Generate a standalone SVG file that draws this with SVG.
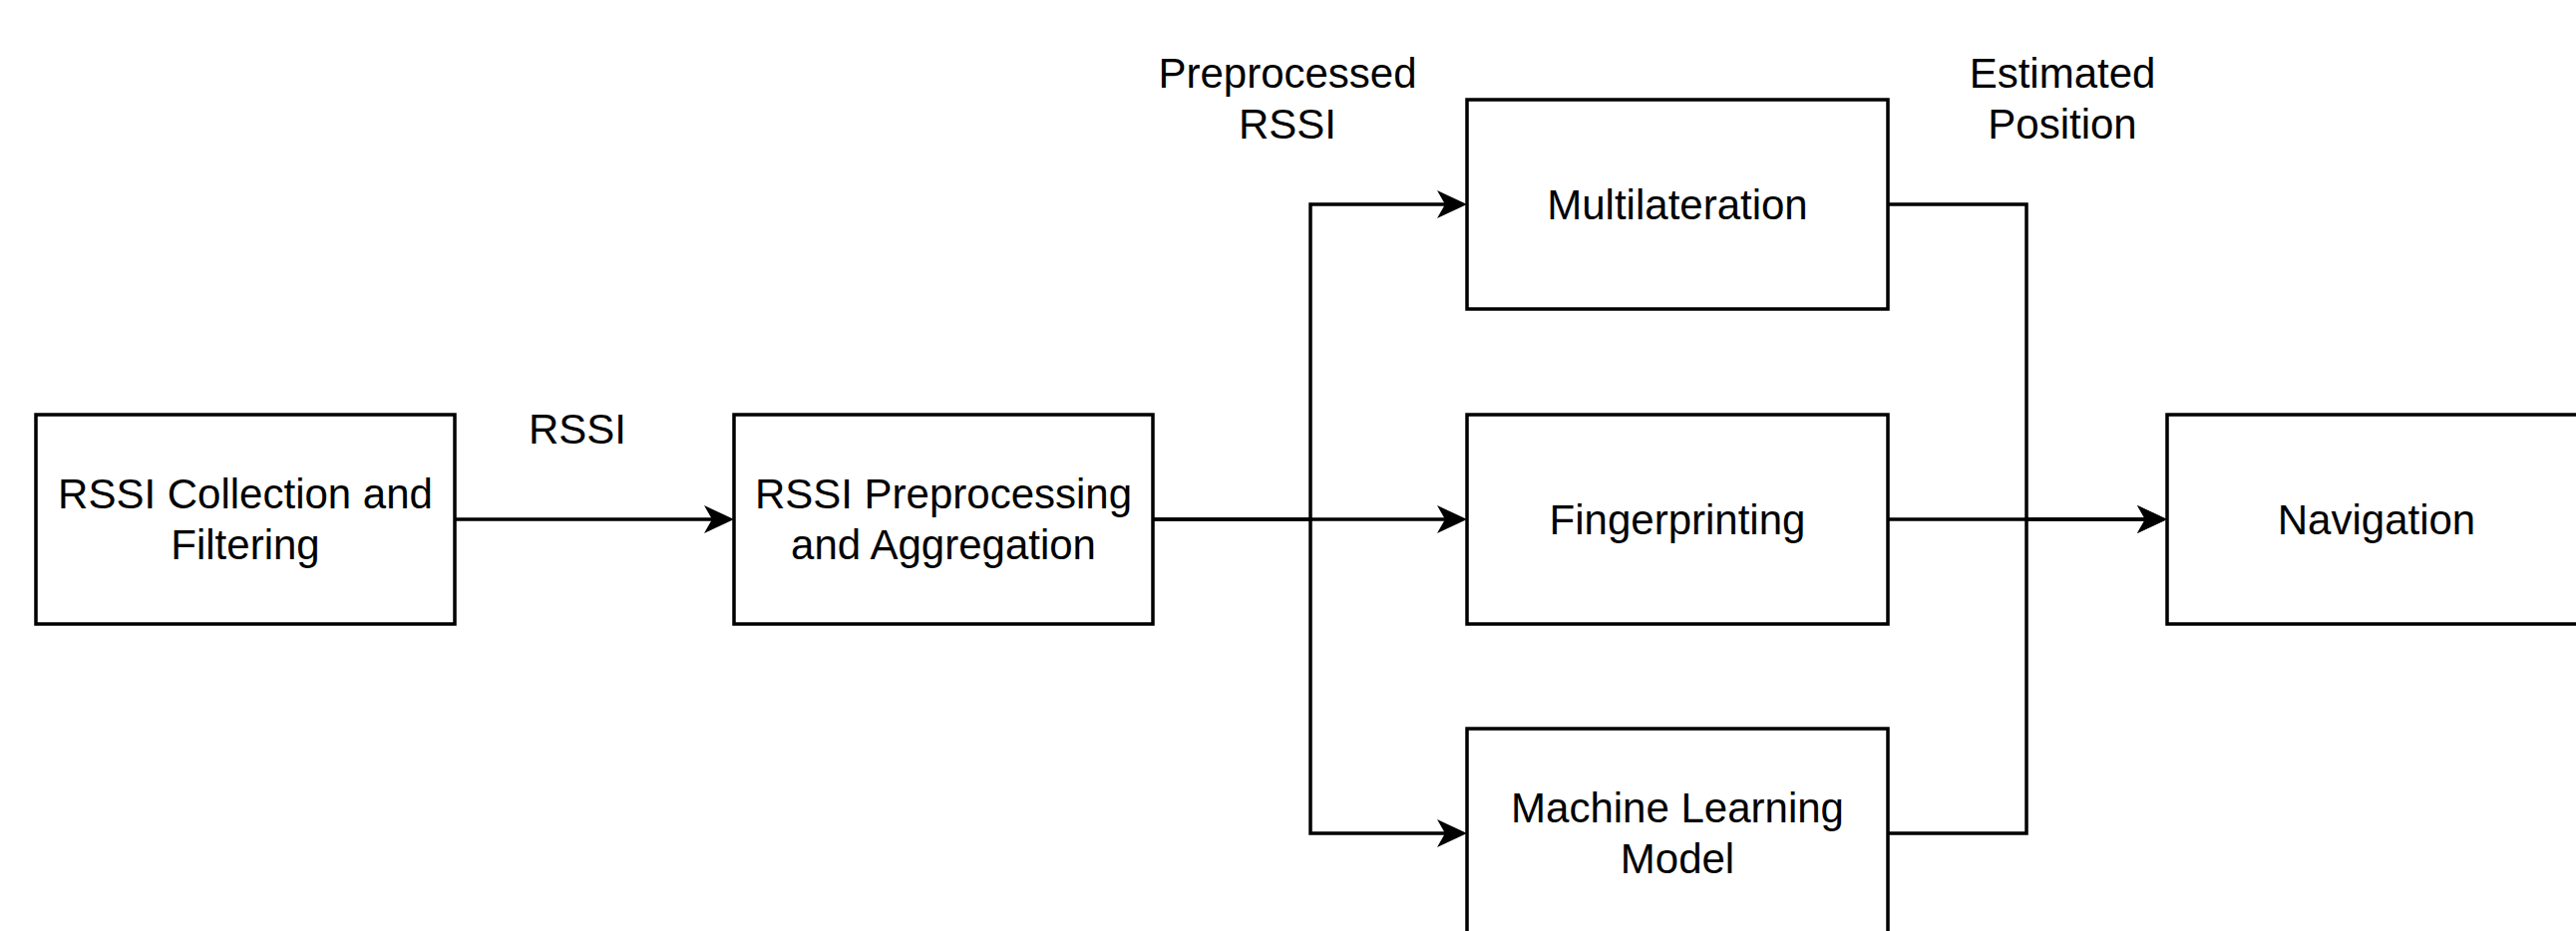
<svg xmlns="http://www.w3.org/2000/svg" width="2583" height="934" viewBox="0 0 2583 934">
<style>
.box{fill:#fff;stroke:#000;stroke-width:3.5}
.edge{fill:none;stroke:#000;stroke-width:3.5}
text{font-family:"Liberation Sans",Arial,sans-serif;font-size:42px;fill:#000;text-anchor:middle}
</style>
<defs>
<marker id="arr" markerUnits="userSpaceOnUse" viewBox="-24 -16 34 32" refX="0" refY="0" markerWidth="34" markerHeight="32" orient="auto">
<path d="M8,0 L-22,-14 L-14,0 L-22,14 Z" fill="#000"/>
</marker>
</defs>
<rect width="2583" height="934" fill="#fff"/>
<g id="connectors">
<path class="edge" d="M456,521 H728" marker-end="url(#arr)"/>
<path class="edge" d="M1156,521 H1463" marker-end="url(#arr)"/>
<path class="edge" d="M1156,521 H1314 V205 H1463" marker-end="url(#arr)"/>
<path class="edge" d="M1314,521 V836 H1463" marker-end="url(#arr)"/>
<path class="edge" d="M1893,205 H2032 V521 H2165" marker-end="url(#arr)"/>
<path class="edge" d="M1893,521 H2165" marker-end="url(#arr)"/>
<path class="edge" d="M1893,836 H2032 V521"/>
</g>
<g id="label-rssi"><text x="579" y="445">RSSI</text></g>
<g id="label-preprocessed"><text x="1291" y="88">Preprocessed</text><text x="1291" y="139">RSSI</text></g>
<g id="label-estimated"><text x="2068" y="88">Estimated</text><text x="2068" y="139">Position</text></g>
<g id="node-collection"><rect class="box" x="36" y="416" width="420" height="210"/><text x="246" y="510">RSSI Collection and</text><text x="246" y="561">Filtering</text></g>
<g id="node-preprocessing"><rect class="box" x="736" y="416" width="420" height="210"/><text x="946" y="510">RSSI Preprocessing</text><text x="946" y="561">and Aggregation</text></g>
<g id="node-multilateration"><rect class="box" x="1471" y="100" width="422" height="210"/><text x="1682" y="220">Multilateration</text></g>
<g id="node-fingerprinting"><rect class="box" x="1471" y="416" width="422" height="210"/><text x="1682" y="536">Fingerprinting</text></g>
<g id="node-ml"><rect class="box" x="1471" y="731" width="422" height="210"/><text x="1682" y="825">Machine Learning</text><text x="1682" y="876">Model</text></g>
<g id="node-navigation"><rect class="box" x="2173" y="416" width="420" height="210"/><text x="2383" y="536">Navigation</text></g>
</svg>
